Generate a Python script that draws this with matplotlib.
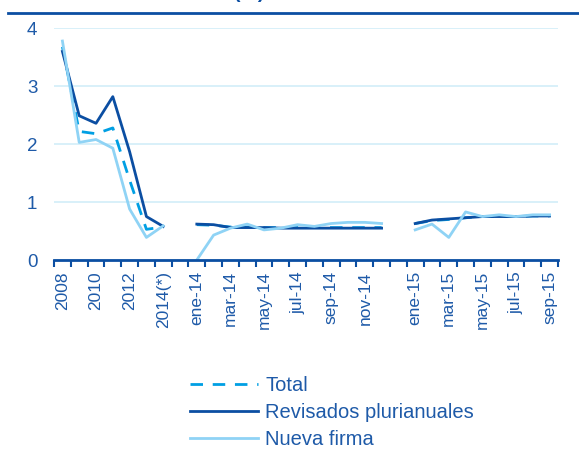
import numpy as np
import matplotlib.pyplot as plt

plt.rcParams['font.family'] = ['Liberation Sans', 'DejaVu Sans']

categorias = ['2008', '2009', '2010', '2011', '2012', '2013', '2014(*)', '',
              'ene-14', 'feb-14', 'mar-14', 'abr-14', 'may-14', 'jun-14', 'jul-14',
              'ago-14', 'sep-14', 'oct-14', 'nov-14', 'dic-14', '',
              'ene-15', 'feb-15', 'mar-15', 'abr-15', 'may-15', 'jun-15', 'jul-15',
              'ago-15', 'sep-15']
etiquetas = ['2008', '', '2010', '', '2012', '', '2014(*)', '',
             'ene-14', '', 'mar-14', '', 'may-14', '', 'jul-14',
             '', 'sep-14', '', 'nov-14', '', '',
             'ene-15', '', 'mar-15', '', 'may-15', '', 'jul-15',
             '', 'sep-15']

nan = np.nan
total = [3.68, 2.22, 2.18, 2.28, 1.38, 0.53, 0.57, nan,
         0.61, 0.60, 0.57, 0.57, 0.56, 0.56, 0.56, 0.56, 0.56, 0.56, 0.56, 0.56, nan,
         0.63, 0.68, 0.70, 0.73, 0.75, 0.75, 0.75, 0.76, 0.76]
revisados = [3.60, 2.49, 2.36, 2.82, 1.87, 0.75, 0.58, nan,
             0.62, 0.61, 0.56, 0.56, 0.56, 0.55, 0.55, 0.55, 0.55, 0.55, 0.55, 0.55, nan,
             0.63, 0.69, 0.71, 0.73, 0.75, 0.75, 0.75, 0.76, 0.76]
nueva = [3.78, 2.03, 2.08, 1.93, 0.88, 0.39, 0.59, nan,
         0.00, 0.43, 0.55, 0.62, 0.52, 0.55, 0.61, 0.58, 0.63, 0.65, 0.65, 0.63, nan,
         0.52, 0.62, 0.39, 0.83, 0.75, 0.78, 0.75, 0.78, 0.78]

azul_osc = '#0B4EA2'
azul_med = '#009FE3'
azul_cla = '#8FD3F5'
texto = '#1E5AA8'

fig = plt.figure(figsize=(5.79, 4.49), dpi=100)
ax = fig.add_axes([0.0933, 0.4209, 0.8704, 0.5161])

x = np.arange(len(categorias))
ax.plot(x, total, color=azul_med, lw=2, ls=(0, (4.5, 3.5)), label='Total', zorder=3)
ax.plot(x, revisados, color=azul_osc, lw=2, label='Revisados plurianuales', zorder=4)
ax.plot(x, nueva, color=azul_cla, lw=2, label='Nueva firma', zorder=5)

ax.set_xlim(-0.5, len(categorias) - 0.5)
ax.set_ylim(0, 4)
ax.set_yticks([0, 1, 2, 3, 4])
ax.yaxis.grid(True, color='#D2EEF8', lw=1.2)
ax.set_axisbelow(True)
for s in ['top', 'right', 'left']:
    ax.spines[s].set_visible(False)
ax.spines['bottom'].set_color(azul_osc)
ax.spines['bottom'].set_linewidth(2)
ax.spines['bottom'].set_zorder(6)
ax.tick_params(axis='y', length=0, pad=12, labelsize=13.5, labelcolor=texto)

ax.set_xticks(np.arange(-0.5, len(categorias)), minor=False)
ax.set_xticklabels([])
ax.tick_params(axis='x', which='major', direction='out', length=5, width=1.5, color=azul_osc)
ax.set_xticks(x, minor=True)
ax.set_xticklabels(etiquetas, minor=True, rotation=90)
ax.tick_params(axis='x', which='minor', length=0, pad=8, labelsize=12.5, labelcolor=texto)

# titulo cortado y linea superior
fig.text(0.43, 1.004, '(%)', ha='center', va='baseline', fontsize=14,
         fontweight='bold', color=azul_osc)
fig.add_artist(plt.Line2D([0.014, 1.0], [0.971, 0.971], color=azul_osc, lw=2))

leg = fig.legend(loc='center left', bbox_to_anchor=(0.328, 0.082), frameon=False,
                 fontsize=14.5, handlelength=3.4, handletextpad=0.35,
                 labelspacing=0.4, borderpad=0, borderaxespad=0)
for t in leg.get_texts():
    t.set_color(texto)

fig.savefig('out.png', dpi=100)
